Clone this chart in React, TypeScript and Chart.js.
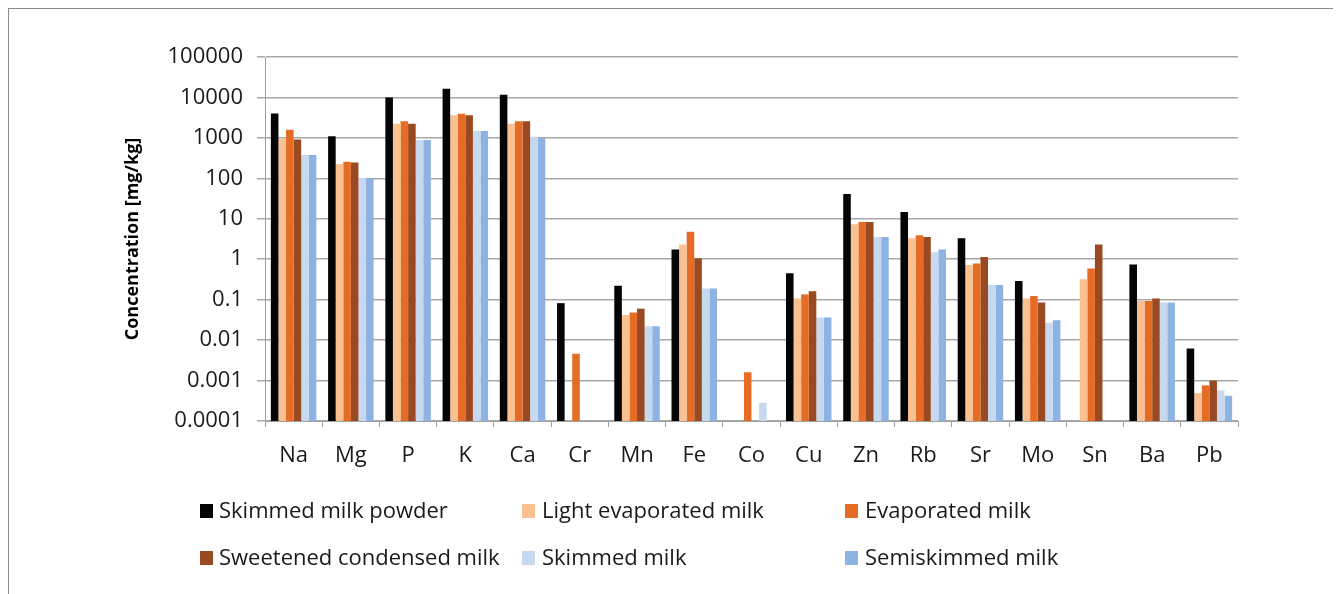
import React, { useEffect, useRef } from "react";
import { Chart, registerables } from "chart.js";

Chart.register(...registerables);

const categories = ["Na", "Mg", "P", "K", "Ca", "Cr", "Mn", "Fe", "Co", "Cu", "Zn", "Rb", "Sr", "Mo", "Sn", "Ba", "Pb"];
const skimmedMilkPowder = [4000, 1100, 10000, 16300, 11700, 0.082, 0.22, 1.74, null, 0.45, 41, 14.7, 3.3, 0.29, null, 0.74, 0.0062];
const lightEvaporatedMilk = [950, 225, 2240, 3650, 2240, null, 0.042, 2.3, null, 0.107, 7.3, 3.3, 0.72, 0.107, 0.32, 0.093, 0.00049];
const evaporatedMilk = [1590, 257, 2570, 3980, 2570, 0.0046, 0.048, 4.8, 0.0016, 0.135, 8.3, 3.9, 0.78, 0.123, 0.59, 0.093, 0.00076];
const sweetenedCondensedMilk = [910, 245, 2240, 3650, 2570, null, 0.06, 1.05, null, 0.162, 8.3, 3.55, 1.14, 0.085, 2.3, 0.107, 0.001];
const skimmedMilk = [380, 102, 890, 1470, 1070, null, 0.022, 0.19, 0.00028, 0.036, 3.55, 1.49, 0.23, 0.027, null, 0.085, 0.00057];
const semiskimmedMilk = [380, 100, 890, 1470, 1000, null, 0.022, 0.19, null, 0.036, 3.55, 1.74, 0.23, 0.031, null, 0.085, 0.00042];
const yTicks = [0.0001, 0.001, 0.01, 0.1, 1, 10, 100, 1000, 10000, 100000];

const seriesNames = ["Skimmed milk powder", "Light evaporated milk", "Evaporated milk", "Sweetened condensed milk", "Skimmed milk", "Semiskimmed milk"];
const seriesColors = ["#050505", "#FAC08F", "#E46C24", "#9A4A22", "#C6D9F0", "#8DB3E2"];
const seriesData = [skimmedMilkPowder, lightEvaporatedMilk, evaporatedMilk, sweetenedCondensedMilk, skimmedMilk, semiskimmedMilk];

const FONT = '"Open Sans", sans-serif';

const legendPlugin = {
  id: "gridLegend",
  afterDraw(chart: any) {
    const ctx = chart.ctx;
    const boxX = [191, 513, 836];
    const textX = [210, 533, 856];
    const rowY = [502, 549];
    ctx.save();
    ctx.font = `22px ${FONT}`;
    ctx.textBaseline = "middle";
    ctx.textAlign = "left";
    seriesNames.forEach((name, i) => {
      const col = i % 3;
      const row = Math.floor(i / 3);
      ctx.fillStyle = seriesColors[i];
      ctx.fillRect(boxX[col], rowY[row] - 7, 13, 14);
      ctx.fillStyle = "#1a1a1a";
      ctx.fillText(name, textX[col], rowY[row] + 1);
    });
    ctx.restore();
  },
};

export default function App() {
  const ref = useRef<HTMLCanvasElement>(null);
  useEffect(() => {
    if (!ref.current) return;
    const chart = new Chart(ref.current, {
      type: "bar",
      data: {
        labels: categories,
        datasets: seriesNames.map((name, i) => ({
          label: name,
          data: seriesData[i] as any,
          backgroundColor: seriesColors[i],
          borderWidth: 0,
          categoryPercentage: 0.795,
          barPercentage: 1,
        })),
      },
      options: {
        responsive: false,
        animation: false,
        layout: { padding: { left: 113, right: 95, top: 48, bottom: 126 } },
        plugins: { legend: { display: false }, tooltip: { enabled: false } },
        scales: {
          x: {
            grid: { offset: true, drawOnChartArea: false, drawTicks: true, tickLength: 6, color: "#a0a0a0" },
            border: { color: "#a0a0a0" },
            ticks: { color: "#1a1a1a", font: { family: FONT, size: 22 }, padding: 16, maxRotation: 0 },
            afterFit(scale: any) {
              scale.height = 60;
            },
          },
          y: {
            type: "logarithmic",
            min: 0.0001,
            max: 100000,
            grid: { color: "#a8a8a8", lineWidth: 1.5, tickLength: 8 },
            border: { color: "#a0a0a0" },
            ticks: {
              color: "#1a1a1a",
              font: { family: FONT, size: 22 },
              padding: 14,
              autoSkip: false,
              callback: (v: any) => String(v),
            },
            afterBuildTicks(scale: any) {
              scale.ticks = yTicks.map((v) => ({ value: v }));
            },
            afterFit(scale: any) {
              scale.width = 143;
            },
            title: {
              display: true,
              text: "Concentration [mg/kg]",
              color: "#000",
              font: { family: FONT, size: 18, weight: "bold" },
              padding: 0,
            },
          },
        },
      },
      plugins: [legendPlugin],
    });
    return () => chart.destroy();
  }, []);

  return (
    <div
      style={{
        width: 1326,
        height: 600,
        border: "1px solid #8a8a8a",
        boxSizing: "border-box",
        background: "#fff",
      }}
    >
      <canvas ref={ref} width={1324} height={598} style={{ display: "block", width: 1324, height: 598 }} />
    </div>
  );
}
